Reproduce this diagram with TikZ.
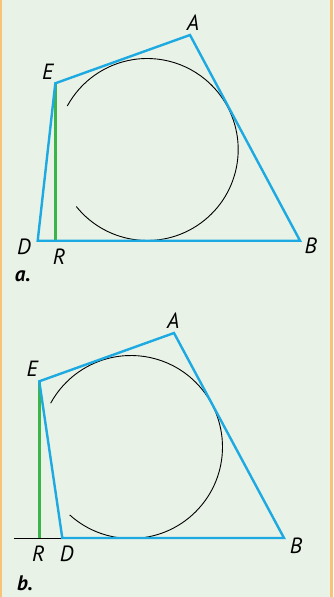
\documentclass[tikz,border=0pt]{standalone}
\usepackage{fontspec}
\setmainfont{PT Sans}
\begin{document}
\begin{tikzpicture}[x=1pt,y=-1pt,
  lbl/.style={font=\fontsize{22}{24}\selectfont\itshape, inner sep=0pt},
  tag/.style={font=\fontsize{21}{24}\selectfont\bfseries\itshape, inner sep=0pt},
  blueline/.style={draw=bluec, line width=2.4pt, line join=miter},
  greenline/.style={draw=greenc, line width=2.4pt},
  circ/.style={draw=black, line width=0.9pt}]
\definecolor{bgc}{HTML}{E8F2E6}
\definecolor{borderc}{HTML}{F8C277}
\definecolor{bluec}{HTML}{1DA9E1}
\definecolor{greenc}{HTML}{3BB54A}
\useasboundingbox (0,0) rectangle (333,597);
\fill[bgc] (0,0) rectangle (333,597);
\fill[borderc] (0,0) rectangle (1.8,597);
\fill[borderc] (330,0) rectangle (333,597);

% panel a
\coordinate (aA) at (190,35);
\coordinate (aE) at (55.3,83.3);
\coordinate (aD) at (37.7,240.7);
\coordinate (aB) at (300,240.7);
\coordinate (aR) at (55.3,240.7);
\draw[circ] (147.2,149.5) ++(141.2:91) arc[start angle=141.2, end angle=-151.4, radius=91];
\draw[greenline] (aE) -- (aR);
\draw[blueline] (aA) -- (aB) -- (aD) -- (aE) -- cycle;
\node[lbl] (laA) at (193,23) {A};
\node[lbl] (laE) at (47.7,71.7) {E};
\node[lbl] (laD) at (24,246.7) {D};
\node[lbl] (laB) at (310.7,245.7) {B};
\node[lbl] (laR) at (59,256.7) {R};
\node[tag] (ta) at (22.7,276.7) {a.};

% panel b
\coordinate (bA) at (174,333);
\coordinate (bE) at (39.3,381.3);
\coordinate (bD) at (62.3,538);
\coordinate (bB) at (284,538);
\coordinate (bR) at (39.3,538);
\coordinate (bL) at (14.3,538);
\draw[circ] (131,447) ++(132.1:91.5) arc[start angle=132.1, end angle=-151.4, radius=91.5];
\draw[black, line width=0.9pt] (bL) -- (bD);
\draw[greenline] (bE) -- (bR);
\draw[blueline] (bA) -- (bB) -- (bD) -- (bE) -- cycle;
\node[lbl] (lbA) at (173.3,320.3) {A};
\node[lbl] (lbE) at (32.3,368.7) {E};
\node[lbl] (lbR) at (38.3,553.7) {R};
\node[lbl] (lbD) at (66.7,553.7) {D};
\node[lbl] (lbB) at (296,545.3) {B};
\node[tag] (tb) at (25,583.7) {b.};
\end{tikzpicture}
\end{document}
